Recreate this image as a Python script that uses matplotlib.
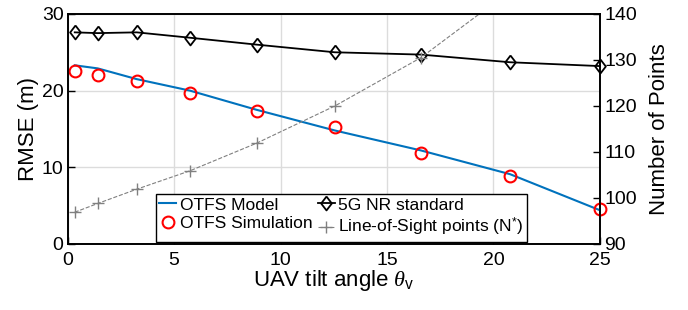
import matplotlib
matplotlib.use('Agg')
import matplotlib.pyplot as plt

plt.rcParams['font.family'] = ['Liberation Sans', 'DejaVu Sans']
plt.rcParams['mathtext.fontset'] = 'custom'
plt.rcParams['mathtext.it'] = 'Liberation Serif:italic'
plt.rcParams['mathtext.rm'] = 'Liberation Sans'

# data
tilt = [0.33, 1.41, 3.24, 5.74, 8.87, 12.55, 16.59, 20.78, 25.0]
otfs_model = [23.3, 22.9, 21.5, 20.0, 17.5, 14.8, 12.2, 9.1, 4.4]
otfs_sim = [22.6, 22.1, 21.3, 19.7, 17.3, 15.2, 11.9, 8.8, 4.6]
nr_5g = [27.6, 27.5, 27.6, 26.9, 26.0, 25.0, 24.7, 23.7, 23.2]
los_points = [96.9, 98.8, 101.9, 105.9, 111.9, 120.0, 130.5, 145.0, 165.0]

# MATLAB-style narrow diamond
diamond = [(0, 1), (0.77, 0), (0, -1), (-0.77, 0), (0, 1)]

fig = plt.figure(figsize=(6.88, 3.10), dpi=100)
ax1 = fig.add_axes([0.0984, 0.213, 0.7736, 0.742])
ax2 = ax1.twinx()

l1, = ax1.plot(tilt, otfs_model, color='#0072BD', lw=1.5, label='OTFS Model', zorder=3)
l2, = ax1.plot(tilt, otfs_sim, ls='none', marker='o', ms=8.5, mfc='none', mec='red',
               mew=1.5, label='OTFS Simulation', zorder=4, clip_on=False)
l3, = ax1.plot(tilt, nr_5g, color='black', lw=1.3, marker=diamond, ms=10, mfc='none', mec='black',
               mew=1.3, label='5G NR standard', zorder=4, clip_on=False)
l4, = ax2.plot(tilt, los_points, color='gray', lw=0.8, ls='--', marker='+', ms=9, mew=1.0,
               label='Line-of-Sight points (N$^{*}$)')

ax1.set_xlim(0, 25)
ax1.set_ylim(0, 30)
ax2.set_ylim(90, 140)
ax1.set_xticks([0, 5, 10, 15, 20, 25])
ax1.set_yticks([0, 10, 20, 30])
ax2.set_yticks([90, 100, 110, 120, 130, 140])

ax1.grid(True, color='#dcdcdc', lw=1.0)
ax1.set_axisbelow(True)
for ax in (ax1, ax2):
    ax.tick_params(direction='in', length=5, width=1.0, labelsize=14, pad=3)
    for s in ax.spines.values():
        s.set_linewidth(1.2)
ax1.tick_params(axis='x', pad=6)

ax1.set_xlabel(r'UAV tilt angle $\theta_{\rm v}$', fontsize=16, labelpad=-1)
ax1.set_ylabel('RMSE (m)', fontsize=16, labelpad=2)
ax2.set_ylabel('Number of Points', fontsize=16, labelpad=9)

leg = ax2.legend(handles=[l1, l2, l3, l4], ncol=2, fontsize=12.5,
                 loc='lower left', bbox_to_anchor=(0.165, 0.01),
                 fancybox=False, framealpha=1, edgecolor='black',
                 handlelength=1.0, handletextpad=0.2, columnspacing=0.3,
                 borderpad=0.2, labelspacing=0.2, borderaxespad=0)
leg.get_frame().set_linewidth(1.0)
leg.set_zorder(10)

fig.savefig('out.png', dpi=100)
